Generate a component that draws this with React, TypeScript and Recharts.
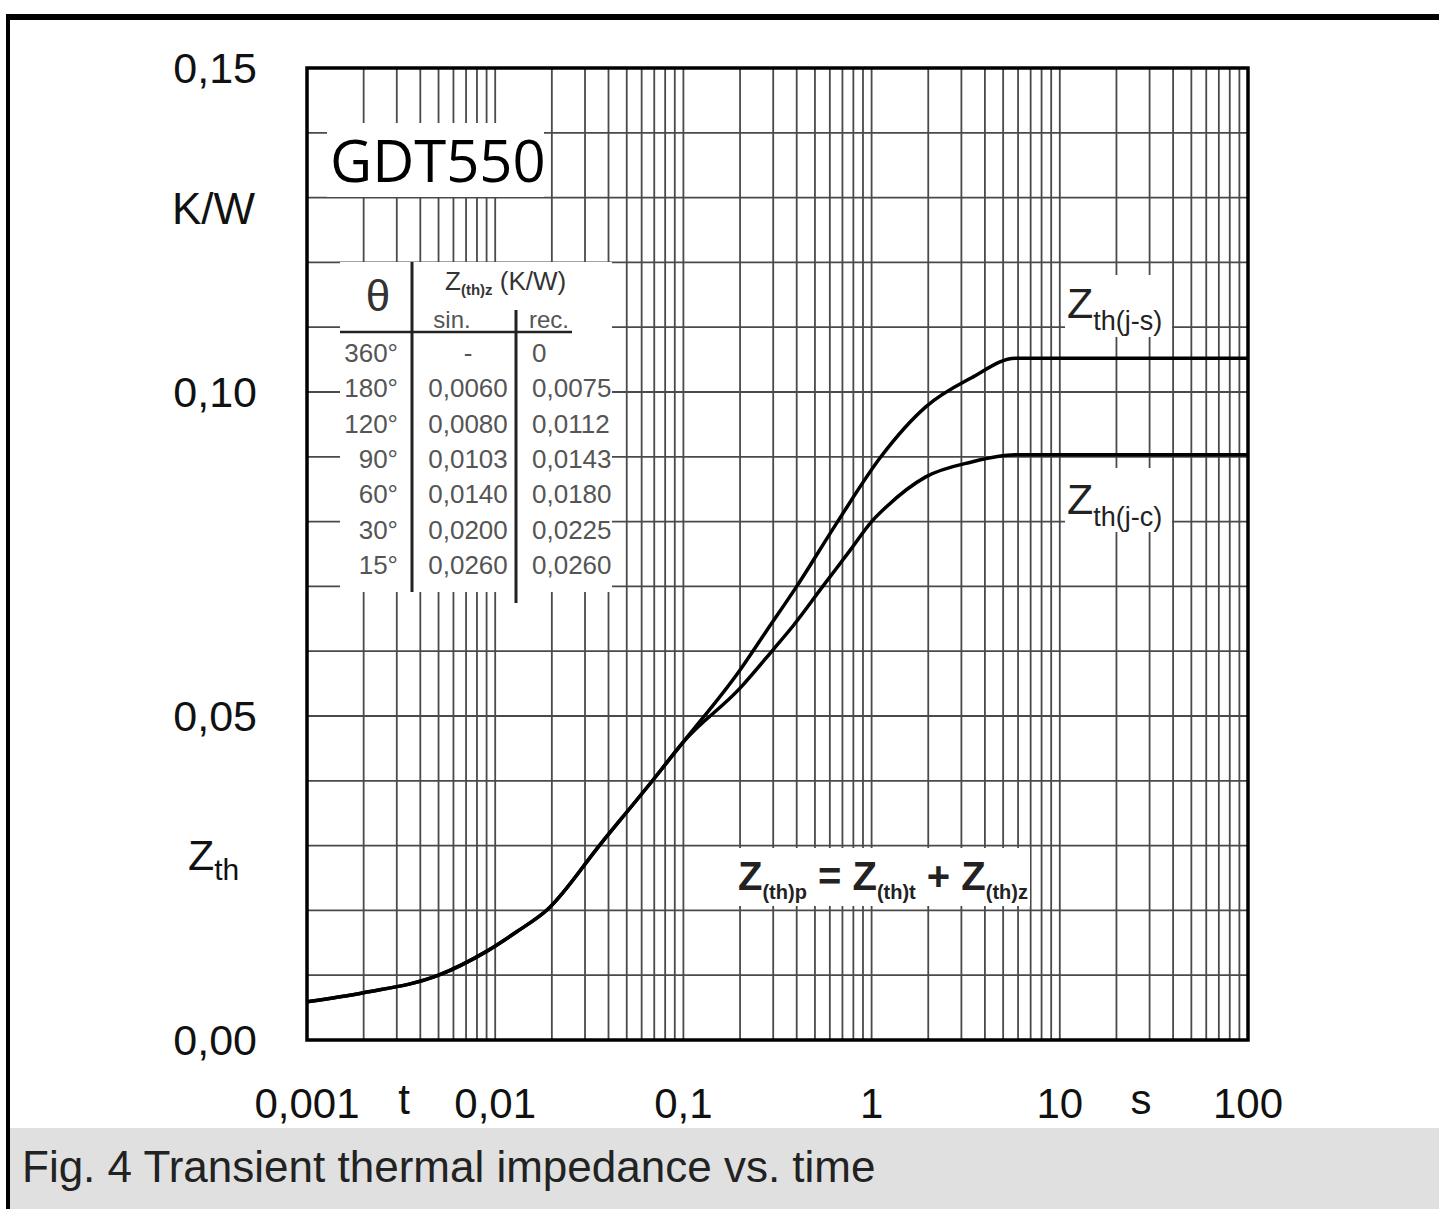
import React from "react";
import { CartesianGrid, Line, LineChart, XAxis, YAxis } from "recharts";

// Zth(j-s) – junction to heatsink
const JS_TIME = [0.001, 0.002, 0.005, 0.0089, 0.013, 0.0189, 0.0362, 0.0693, 0.1, 0.2, 0.279, 0.4, 0.66, 1.12, 1.94, 3.4, 5.8, 10, 100];
const JS_Z = [0.0059, 0.0073, 0.01, 0.0136, 0.0167, 0.0201, 0.0302, 0.0402, 0.046, 0.0571, 0.0633, 0.07, 0.08, 0.09, 0.0977, 0.1022, 0.1052, 0.1052, 0.1052];

// Zth(j-c) – junction to case
const JC_TIME = [0.001, 0.002, 0.005, 0.0089, 0.013, 0.0189, 0.0362, 0.0693, 0.1, 0.2, 0.301, 0.385, 0.55, 0.77, 1.0, 1.2, 1.94, 3.4, 5.8, 10, 100];
const JC_Z = [0.0059, 0.0073, 0.01, 0.0136, 0.0167, 0.0201, 0.0302, 0.0402, 0.046, 0.0543, 0.0603, 0.064, 0.07, 0.0756, 0.08, 0.0823, 0.0869, 0.0892, 0.0903, 0.0903, 0.0903];

const DECADES = [0.001, 0.01, 0.1, 1, 10];
const DECADE_LABELS = ["0,001", "0,01", "0,1", "1", "10", "100"];
const MULTS = [1, 2, 3, 4, 5, 6, 7, 8, 9];
const X_TICKS = [...DECADES.flatMap((d) => MULTS.map((m) => d * m)), 100];

const Y_TICKS = [0, 0.01, 0.02, 0.03, 0.04, 0.05, 0.06, 0.07, 0.08, 0.09, 0.1, 0.11, 0.12, 0.13, 0.14, 0.15];
const Y_LABELS: Record<string, string> = { "0": "0,00", "0.05": "0,05", "0.1": "0,10", "0.15": "0,15" };

// table of Z(th)z
const THETA = ["360°", "180°", "120°", "90°", "60°", "30°", "15°"];
const SIN = ["-", "0,0060", "0,0080", "0,0103", "0,0140", "0,0200", "0,0260"];
const REC = ["0", "0,0075", "0,0112", "0,0143", "0,0180", "0,0225", "0,0260"];

const W = 1439;
const CH = 1128;
const PLOT = { left: 307, top: 68, right: 1248, bottom: 1040 };
const FONT = "'Liberation Sans', Arial, sans-serif";

const jsData = JS_TIME.map((t, i) => ({ t, z: JS_Z[i] }));
const jcData = JC_TIME.map((t, i) => ({ t, z: JC_Z[i] }));

function XTick(props: any) {
  const v = props.payload?.value as number;
  const idx = [...DECADES, 100].findIndex((d) => Math.abs(d - v) / d < 1e-6);
  if (idx < 0) return null;
  return (
    <text x={props.x} y={PLOT.bottom + 78} textAnchor="middle" fontSize={42} fontFamily={FONT} fill="#111">
      {DECADE_LABELS[idx]}
    </text>
  );
}

function YTick(props: any) {
  const v = props.payload?.value as number;
  const key = String(Math.round(v * 100) / 100);
  const label = Y_LABELS[key];
  if (!label) return null;
  return (
    <text x={257} y={props.y + 15} textAnchor="end" fontSize={43} fontFamily={FONT} fill="#111">
      {label}
    </text>
  );
}

function Overlay() {
  const rowY = (i: number) => 353 + i * 35.3 + 9;
  return (
    <svg
      width={W}
      height={CH}
      style={{ position: "absolute", left: 0, top: 0, pointerEvents: "none" }}
      fontFamily={FONT}
    >
      {/* white boxes behind annotations */}
      <rect x={327} y={123} width={217} height={74} fill="#fff" />
      <rect x={340} y={262} width={272} height={330} fill="#fff" />
      <rect x={1065} y={275} width={107} height={62} fill="#fff" />
      <rect x={1065} y={468} width={107} height={64} fill="#fff" />
      <rect x={728} y={848} width={302} height={58} fill="#fff" />

      <rect
        x={PLOT.left}
        y={PLOT.top}
        width={PLOT.right - PLOT.left}
        height={PLOT.bottom - PLOT.top}
        fill="none"
        stroke="#000"
        strokeWidth={3.5}
      />

      <text x={330} y={182} fontSize={58} fontFamily="'Open Sans', sans-serif" fill="#000">
        GDT550
      </text>

      {/* table */}
      <text x={378} y={311} textAnchor="middle" fontSize={44} fill="#333">θ</text>
      <text x={445} y={290} fontSize={26} fill="#333">
        Z<tspan fontSize={15} fontWeight="bold" dy={5}>(th)z</tspan>
        <tspan dy={-5}> (K/W)</tspan>
      </text>
      <text x={452} y={328} textAnchor="middle" fontSize={24} fill="#555">sin.</text>
      <text x={549} y={328} textAnchor="middle" fontSize={24} fill="#555">rec.</text>
      <line x1={340} y1={332} x2={572} y2={332} stroke="#222" strokeWidth={2.5} />
      <line x1={412} y1={262} x2={412} y2={592} stroke="#222" strokeWidth={3} />
      <line x1={516} y1={310} x2={516} y2={603} stroke="#222" strokeWidth={3} />
      {THETA.map((th, i) => (
        <g key={th} fontSize={26} fill="#555">
          <text x={398} y={rowY(i)} textAnchor="end">{th}</text>
          <text x={468} y={rowY(i)} textAnchor="middle">{SIN[i]}</text>
          <text x={532} y={rowY(i)}>{REC[i]}</text>
        </g>
      ))}

      {/* curve labels */}
      <text x={1067} y={318} fontSize={43} fill="#222">
        Z<tspan fontSize={27} dy={12}>th(j-s)</tspan>
      </text>
      <text x={1067} y={514} fontSize={43} fill="#222">
        Z<tspan fontSize={27} dy={12}>th(j-c)</tspan>
      </text>

      {/* formula */}
      <text x={738} y={890} fontSize={40} fontWeight="bold" fill="#222">
        Z<tspan fontSize={20} dy={9}>(th)p</tspan>
        <tspan dy={-9}> = Z</tspan>
        <tspan fontSize={20} dy={9}>(th)t</tspan>
        <tspan dy={-9}> + Z</tspan>
        <tspan fontSize={20} dy={9}>(th)z</tspan>
      </text>

      {/* axis titles */}
      <text x={172} y={224} fontSize={44} fill="#111">K/W</text>
      <text x={188} y={870} fontSize={43} fill="#111">
        Z<tspan fontSize={30} dy={10}>th</tspan>
      </text>
      <text x={404} y={1114} textAnchor="middle" fontSize={42} fill="#111">t</text>
      <text x={1141} y={1114} textAnchor="middle" fontSize={42} fill="#111">s</text>
    </svg>
  );
}

export default function App() {
  return (
    <div style={{ position: "absolute", left: 0, top: 0, width: W, height: 1209, background: "#fff", overflow: "hidden" }}>
      <div style={{ position: "absolute", left: 0, top: 0 }}>
        <LineChart
          width={W}
          height={CH}
          margin={{ top: PLOT.top, right: W - PLOT.right, bottom: 0, left: 0 }}
        >
          <CartesianGrid stroke="#4a4a4a" strokeWidth={1.8} />
          <XAxis
            dataKey="t"
            type="number"
            scale="log"
            domain={[0.001, 100]}
            allowDataOverflow
            ticks={X_TICKS}
            interval={0}
            height={CH - PLOT.bottom}
            tick={<XTick />}
            tickLine={false}
            axisLine={false}
          />
          <YAxis
            type="number"
            domain={[0, 0.15]}
            ticks={Y_TICKS}
            interval={0}
            width={PLOT.left}
            tick={<YTick />}
            tickLine={false}
            axisLine={false}
          />
          <Line data={jcData} dataKey="z" type="monotone" stroke="#000" strokeWidth={3.5} dot={false} isAnimationActive={false} />
          <Line data={jsData} dataKey="z" type="monotone" stroke="#000" strokeWidth={3.5} dot={false} isAnimationActive={false} />
        </LineChart>
      </div>
      <Overlay />

      {/* outer frame and caption band */}
      <div style={{ position: "absolute", left: 6, top: 14, width: W - 6, height: 6, background: "#000" }} />
      <div style={{ position: "absolute", left: 6, top: 14, width: 4, height: 1209 - 14, background: "#000" }} />
      <div
        style={{
          position: "absolute",
          left: 10,
          top: 1128,
          width: W - 10,
          height: 81,
          background: "#e0e0e0",
          fontFamily: FONT,
          fontSize: 44,
          color: "#222",
        }}
      >
        <div style={{ position: "absolute", left: 12, top: 14, whiteSpace: "nowrap" }}>
          Fig. 4 Transient thermal impedance vs. time
        </div>
      </div>
    </div>
  );
}
